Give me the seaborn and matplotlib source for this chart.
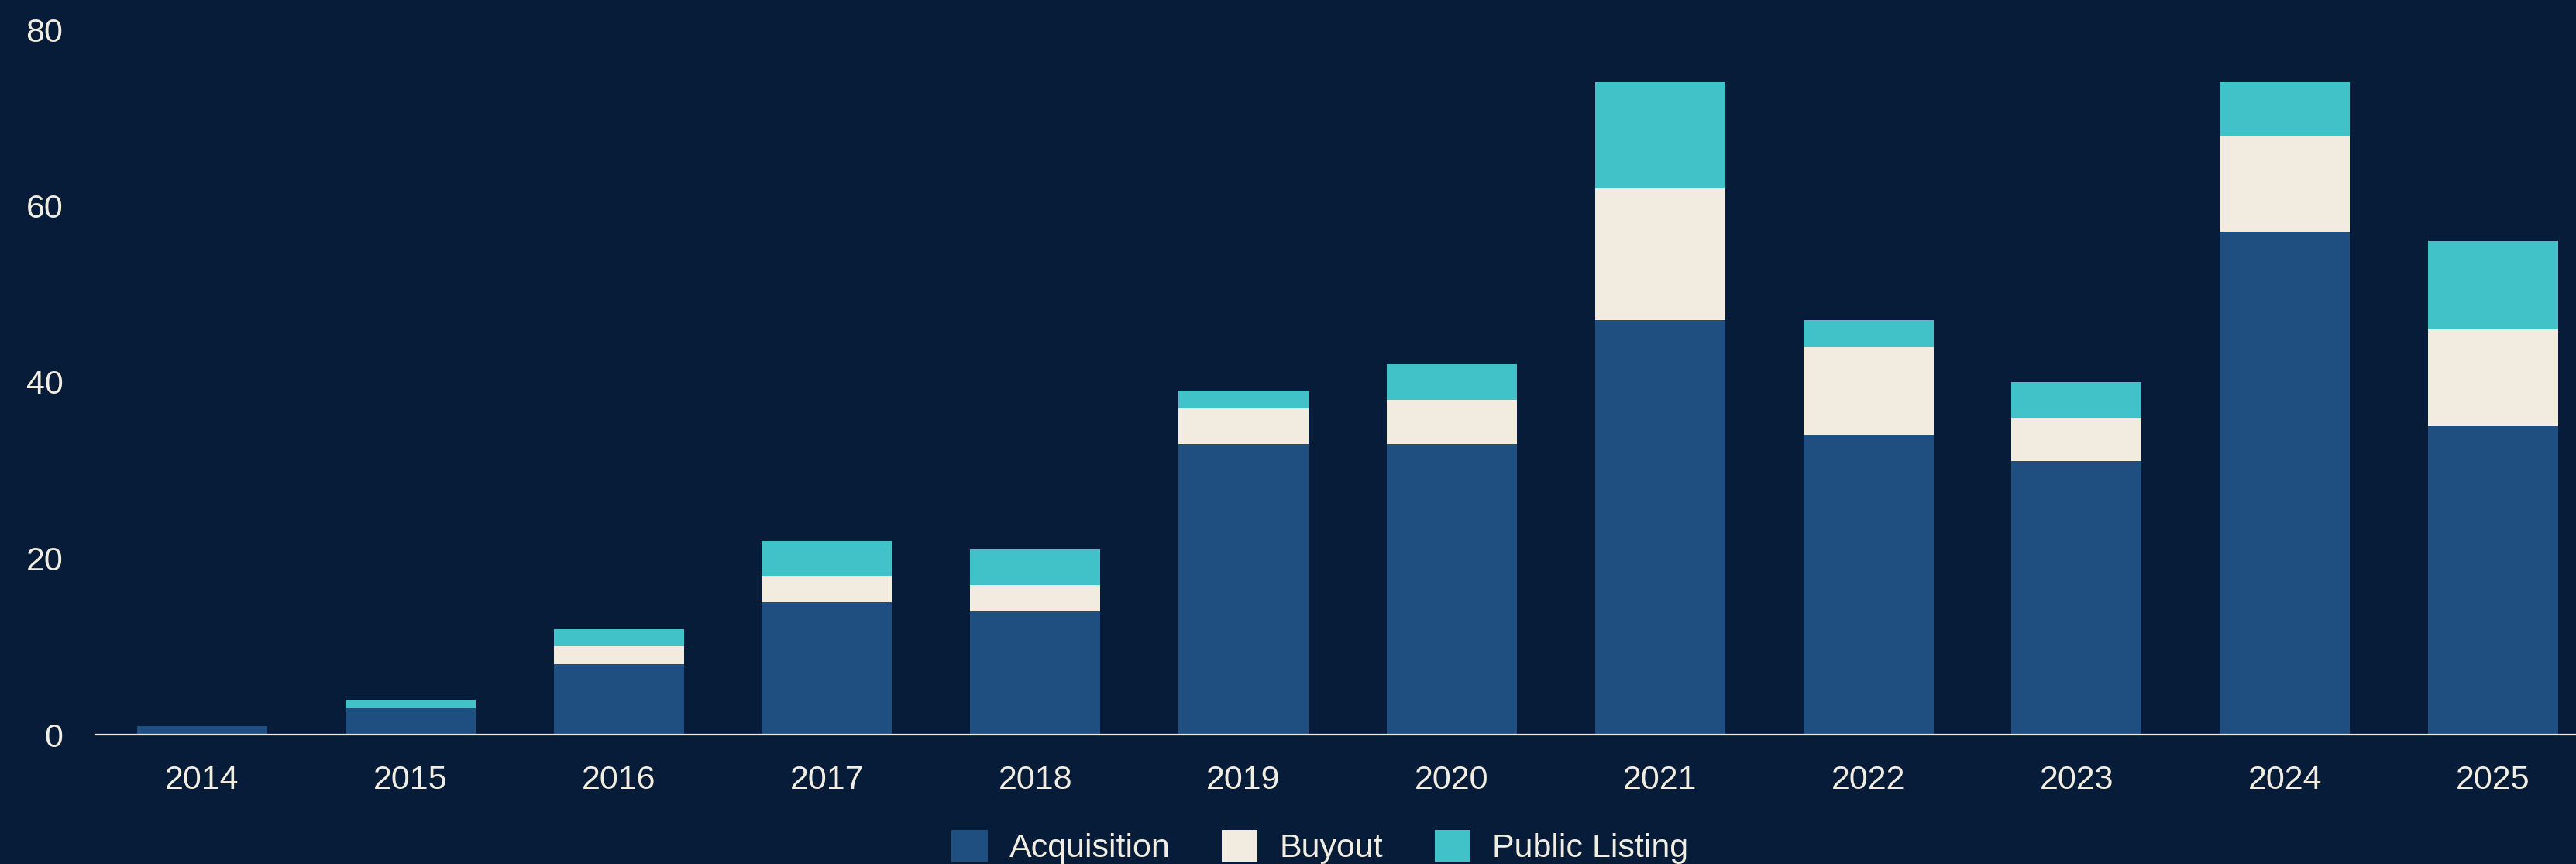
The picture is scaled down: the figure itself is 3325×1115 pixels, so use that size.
import matplotlib
matplotlib.use("Agg")
import matplotlib.pyplot as plt
import seaborn as sns
import pandas as pd
import numpy as np
from matplotlib.patches import Patch

years = ["2014", "2015", "2016", "2017", "2018", "2019", "2020", "2021", "2022", "2023", "2024", "2025"]
acquisition = [1, 3, 8, 15, 14, 33, 33, 47, 34, 31, 57, 35]
buyout = [0, 0, 2, 3, 3, 4, 5, 15, 10, 5, 11, 11]
public_listing = [0, 1, 2, 4, 4, 2, 4, 12, 3, 4, 6, 10]
series_names = ["Acquisition", "Buyout", "Public Listing"]
yticks = [0, 20, 40, 60, 80]

BG = "#061C38"
TXT = "#F2EDE1"
colors = ["#1F4F80", "#F2EBE0", "#40C2C8"]

sns.set_theme(style="white")
plt.rcParams["font.family"] = ["Liberation Sans", "DejaVu Sans"]

W, H, DPI = 3325, 1115, 100
fig = plt.figure(figsize=(W / DPI, H / DPI), dpi=DPI, facecolor=BG)
ax = fig.add_axes([123 / W, 1 - 948 / H, 1 - 123 / W, (948 - 38) / H])
ax.set_facecolor(BG)

df = pd.DataFrame({"year": years, "Acquisition": acquisition,
                   "Buyout": buyout, "Public Listing": public_listing})
c1 = np.array(acquisition)
c2 = c1 + np.array(buyout)
c3 = c2 + np.array(public_listing)
df["lvl3"] = c3
df["lvl2"] = c2
df["lvl1"] = c1

for col, color in zip(["lvl3", "lvl2", "lvl1"], colors[::-1]):
    sns.barplot(data=df, x="year", y=col, order=years, color=color,
                width=0.625, saturation=1, linewidth=0, ax=ax, errorbar=None)

ax.set_xlim(-0.513, 11.398)
ax.set_ylim(0, 80)
ax.set_yticks(yticks)
ax.set_yticklabels([str(v) for v in yticks])
ax.set_xlabel("")
ax.set_ylabel("")
ax.tick_params(axis="both", length=0, colors=TXT, labelsize=31)
ax.tick_params(axis="x", pad=28)
ax.tick_params(axis="y", pad=30)
for s in ["top", "right", "left"]:
    ax.spines[s].set_visible(False)
ax.spines["bottom"].set_color(TXT)
ax.spines["bottom"].set_linewidth(1.6)
ax.grid(False)

handles = [Patch(facecolor=c, edgecolor="none", label=n) for c, n in zip(colors, series_names)]
leg = fig.legend(handles=handles, loc="center", bbox_to_anchor=(1704 / W, 1 - 1093 / H),
                 ncol=3, frameon=False, fontsize=31, handlelength=1.07, handleheight=1.07,
                 handletextpad=0.65, columnspacing=1.56, borderpad=0)
for t in leg.get_texts():
    t.set_color(TXT)

fig.savefig("out.png", dpi=DPI, facecolor=BG)
